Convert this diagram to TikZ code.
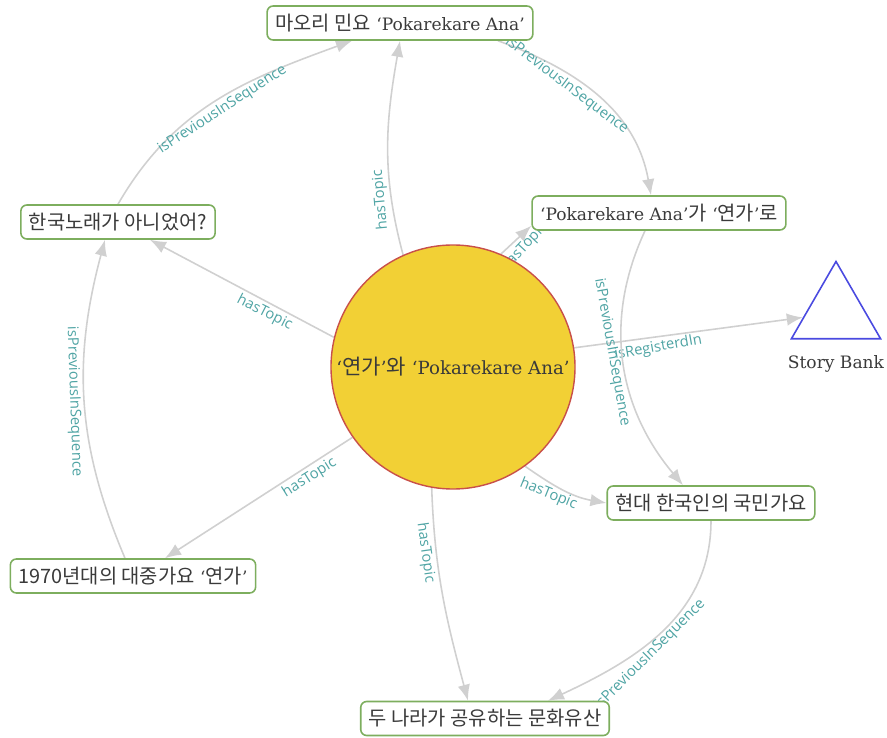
\documentclass[tikz,border=0pt]{standalone}
\usepackage{fontspec}
\setmainfont{DejaVu Serif}[Scale=0.86]
\newfontfamily\krfont{Noto Sans CJK KR}
\newfontfamily\lblfont{Open Sans}
\usetikzlibrary{arrows.meta}
\usetikzlibrary{shapes.geometric}
\usetikzlibrary{backgrounds}

\definecolor{boxgreen}{HTML}{7DAE5E}
\definecolor{linegray}{HTML}{D0D0D0}
\definecolor{lblteal}{HTML}{4FA4A4}
\definecolor{hubfill}{HTML}{F2D035}
\definecolor{hubline}{HTML}{C8504A}
\definecolor{bankblue}{HTML}{4A4AE0}
\definecolor{txtgray}{HTML}{3A3A3A}

\tikzset{
  story/.style={draw=boxgreen, line width=.9pt, rounded corners=1.2mm, fill=white, text=txtgray,
    minimum height=.68cm, inner xsep=.16cm, font=\fontsize{11.3}{13}\selectfont},
  hub/.style={circle, draw=hubline, line width=.8pt, fill=hubfill, minimum size=4.88cm, inner sep=0pt,
    text=txtgray, font=\fontsize{12}{14}\selectfont},
  rel/.style={draw=linegray, line width=.9pt, -{Latex[length=3.2mm,width=2.5mm]}},
  rellbl/.style={text=lblteal, font=\lblfont\fontsize{8.4}{9}\selectfont, inner sep=1.5pt},
}

\begin{document}
\begin{tikzpicture}
\useasboundingbox (0,0) rectangle (17.74,14.74);
\node[hub] (hub) at (9.06,7.40) {‘{\krfont 연가}’{\krfont 와} ‘Pokarekare Ana’};
\node[story] (maori)  at (8.00,14.28) {{\krfont 마오리 민요} ‘Pokarekare Ana’};
\node[story] (notkr)  at (2.36,10.30) {{\krfont 한국노래가 아니었어?}};
\node[story] (yeonga) at (13.18,10.48) {‘Pokarekare Ana’{\krfont 가} ‘{\krfont 연가}’{\krfont 로}};
\node[story] (anthem) at (14.22,4.68) {{\krfont 현대 한국인의 국민가요}};
\node[story] (pop70)  at (2.66,3.22) {{\krfont 1970년대의 대중가요} ‘{\krfont 연가}’};
\node[story] (shared) at (9.70,0.37) {{\krfont 두 나라가 공유하는 문화유산}};
\node[regular polygon, regular polygon sides=3, draw=bankblue, line width=.9pt, minimum size=2.06cm,
  inner sep=0pt, label={[text=txtgray, font=\fontsize{11.3}{13}\selectfont, label distance=2.2mm]below:Story Bank}]
  (bank) at (16.72,8.48) {};

\begin{scope}[on background layer]
\draw[rel] (hub.114) to[out=105,in=-100] node[rellbl, pos=.25, rotate=95, above] {hasTopic} (maori.south);
\draw[rel] (hub.166) -- node[rellbl, pos=.35, rotate=-27, below] {hasTopic} ([xshift=.64cm]notkr.south);
\draw[rel] (hub.67) -- node[rellbl, pos=.5, rotate=47, below] {hasTopic} ([yshift=.1cm]yeonga.south west);
\draw[rel] (hub.9) -- node[rellbl, pos=.36, rotate=10, below] {isRegisterdIn} (bank);
\draw[rel] (hub.-54) to[out=-35,in=170] node[rellbl, pos=.35, rotate=-22, below] {hasTopic} (anthem.west);
\draw[rel] (hub.-100) to[out=-88,in=105] node[rellbl, pos=.28, rotate=-82, below] {hasTopic} ([xshift=-.34cm]shared.north);
\draw[rel] (hub.-145) -- node[rellbl, pos=.26, rotate=32, below] {hasTopic} ([xshift=.64cm]pop70.north);

\draw[rel] (notkr.north) to[out=60,in=200] node[rellbl, pos=.5, rotate=33, below] {isPreviousInSequence} ([xshift=-.96cm]maori.south);
\draw[rel] ([xshift=1.96cm]maori.south) to[out=-20,in=100] node[rellbl, pos=.35, rotate=-37, below] {isPreviousInSequence} ([xshift=-.16cm]yeonga.north);
\draw[rel] ([xshift=-.28cm]yeonga.south) to[out=-115,in=130] node[rellbl, pos=.45, rotate=-80, below] {isPreviousInSequence} ([xshift=-.56cm]anthem.north);
\draw[rel] (anthem.south) to[out=-90,in=25] node[rellbl, pos=.6, rotate=45, below] {isPreviousInSequence} ([xshift=1.26cm]shared.north);
\draw[rel] ([xshift=-.16cm]pop70.north) to[out=113,in=-105] node[rellbl, pos=.5, rotate=-88, below] {isPreviousInSequence} ([xshift=-.26cm]notkr.south);
\end{scope}
\end{tikzpicture}
\end{document}
